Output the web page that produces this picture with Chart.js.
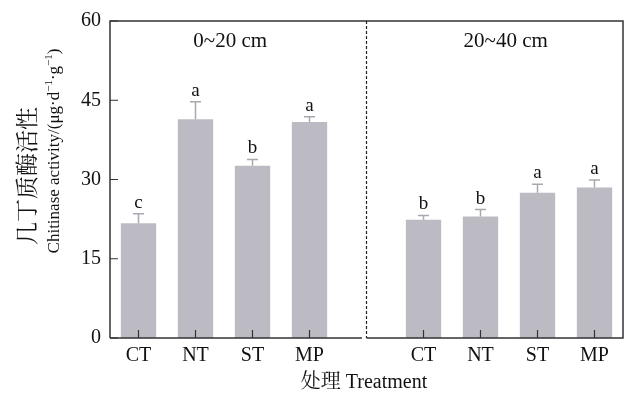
<!DOCTYPE html>
<html lang="zh">
<head>
  <meta charset="UTF-8" />
  <title>Chitinase activity</title>
  <script src="https://cdn.jsdelivr.net/npm/chart.js"></script>
  <style>
    * { margin: 0; padding: 0; }
    body { background: #fff; width: 629px; height: 394px; overflow: hidden; }
  </style>
</head>
<body>
  <canvas id="chart" width="629" height="394"></canvas>
  <script>
    // data
    const depths = ['0~20 cm', '20~40 cm'];
    const treatments = ['CT', 'NT', 'ST', 'MP'];
    const meanTop = [21.7, 41.4, 32.6, 40.9];
    const meanSub = [22.4, 23.0, 27.5, 28.5];
    const sdTop = [1.8, 3.3, 1.2, 1.0];
    const sdSub = [0.8, 1.3, 1.6, 1.4];
    const letterTop = ['c', 'a', 'b', 'a'];
    const letterSub = ['b', 'b', 'a', 'a'];
    const yTicks = [0, 15, 30, 45, 60];

    const labels = [...treatments, '', ...treatments];
    const means = [...meanTop, null, ...meanSub];
    const errs = [...sdTop, null, ...sdSub];
    const letters = [...letterTop, '', ...letterSub];

    const SERIF = '"Liberation Serif", "Times New Roman", "Noto Serif CJK SC", "Noto Sans CJK SC", serif';
    const AXIS = '#333';

    const decorations = {
      id: 'decorations',
      afterDatasetsDraw(chart) {
        const { ctx, chartArea: a, scales: { x, y } } = chart;
        ctx.save();

        // error bars + letters
        means.forEach((m, i) => {
          if (m == null) return;
          const cx = x.getPixelForValue(i);
          const top = y.getPixelForValue(m);
          const cap = y.getPixelForValue(m + errs[i]);
          ctx.strokeStyle = '#a9a8b0';
          ctx.lineWidth = 1.5;
          ctx.beginPath();
          ctx.moveTo(cx, top); ctx.lineTo(cx, cap);
          ctx.moveTo(cx - 5.5, cap); ctx.lineTo(cx + 5.5, cap);
          ctx.stroke();
          ctx.fillStyle = '#111';
          ctx.font = '19px ' + SERIF;
          ctx.textAlign = 'center';
          ctx.textBaseline = 'alphabetic';
          ctx.fillText(letters[i], cx, cap - 6);
        });

        // frame
        const midX = x.getPixelForValue(4);
        ctx.strokeStyle = AXIS;
        ctx.lineWidth = 1.5;
        ctx.beginPath();
        ctx.moveTo(a.left, a.bottom); ctx.lineTo(a.left, a.top);
        ctx.lineTo(a.right, a.top); ctx.lineTo(a.right, a.bottom);
        ctx.lineTo(midX, a.bottom);
        ctx.moveTo(midX - 4.5, a.bottom); ctx.lineTo(a.left, a.bottom);
        ctx.stroke();

        // inward ticks
        ctx.lineWidth = 1.2;
        ctx.beginPath();
        yTicks.forEach(v => {
          const py = y.getPixelForValue(v);
          ctx.moveTo(a.left, py); ctx.lineTo(a.left + 8, py);
        });
        labels.forEach((l, i) => {
          if (!l) return;
          const px = x.getPixelForValue(i);
          ctx.moveTo(px, a.bottom); ctx.lineTo(px, a.bottom - 8);
        });
        ctx.stroke();

        // dashed separator
        ctx.strokeStyle = '#222';
        ctx.lineWidth = 1.2;
        ctx.setLineDash([3, 2]);
        ctx.beginPath();
        ctx.moveTo(midX, a.top); ctx.lineTo(midX, a.bottom);
        ctx.stroke();
        ctx.setLineDash([]);

        // panel titles
        ctx.fillStyle = '#111';
        ctx.font = '21px ' + SERIF;
        ctx.textAlign = 'center';
        ctx.textBaseline = 'middle';
        ctx.fillText(depths[0], (a.left + midX) / 2 - 8, a.top + 20);
        ctx.fillText(depths[1], (midX + a.right) / 2 + 11, a.top + 20);

        // x title
        ctx.font = '20px ' + SERIF;
        ctx.fillText('处理 Treatment', 364, 383);

        // y title (two lines, rotated)
        ctx.translate(29, 176);
        ctx.rotate(-Math.PI / 2);
        ctx.font = '23px ' + SERIF;
        ctx.fillText('几丁质酶活性', 0, 0);
        ctx.restore();

        ctx.save();
        ctx.translate(55, 151);
        ctx.rotate(-Math.PI / 2);
        const parts = [
          ['Chitinase activity/(μg·d', false],
          ['−1', true],
          ['·g', false],
          ['−1', true],
          [')', false]
        ];
        const big = '17px ' + SERIF, small = '11px ' + SERIF;
        let total = 0;
        parts.forEach(([t, sup]) => { ctx.font = sup ? small : big; total += ctx.measureText(t).width; });
        let cur = -total / 2;
        ctx.textAlign = 'left';
        ctx.textBaseline = 'middle';
        ctx.fillStyle = '#111';
        parts.forEach(([t, sup]) => {
          ctx.font = sup ? small : big;
          ctx.fillText(t, cur, sup ? -6 : 0);
          cur += ctx.measureText(t).width;
        });
        ctx.restore();
      }
    };

    new Chart(document.getElementById('chart'), {
      type: 'bar',
      data: {
        labels,
        datasets: [{
          data: means,
          backgroundColor: '#bcbbc3',
          borderWidth: 0,
          categoryPercentage: 1,
          barPercentage: 0.62
        }]
      },
      options: {
        responsive: false,
        animation: false,
        devicePixelRatio: 1,
        layout: { padding: { top: 17, right: 6, left: 0, bottom: 0 } },
        plugins: { legend: { display: false }, tooltip: { enabled: false } },
        scales: {
          x: {
            grid: { display: false, drawTicks: false },
            border: { display: false },
            ticks: { color: '#111', font: { family: SERIF, size: 20 }, padding: 6, maxRotation: 0, autoSkip: false },
            afterFit(s) { s.height = 56; }
          },
          y: {
            min: 0,
            max: 60,
            afterBuildTicks(s) { s.ticks = yTicks.map(v => ({ value: v })); },
            grid: { display: false, drawTicks: false },
            border: { display: false },
            ticks: { color: '#111', font: { family: SERIF, size: 20 }, padding: 9 },
            afterFit(s) { s.width = 110; }
          }
        }
      },
      plugins: [decorations]
    });
  </script>
</body>
</html>
